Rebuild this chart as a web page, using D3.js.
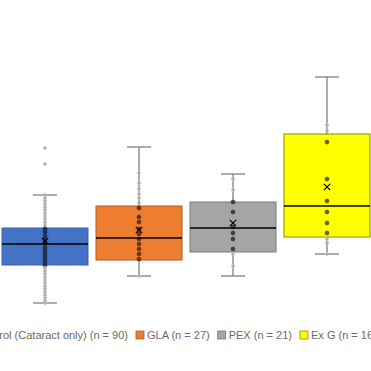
<!DOCTYPE html>
<html>
<head>
<meta charset="utf-8">
<script src="https://cdn.jsdelivr.net/npm/d3@7"></script>
<style>
  body { margin: 0; background: #fff; }
  svg { display: block; }
</style>
</head>
<body>
<script>
// groups and their legend labels
var groups = ["Control (Cataract only)", "GLA", "PEX", "Ex G"];
var counts = [90, 27, 21, 16];
var colors = ["#4472c4", "#ed7d31", "#a5a5a5", "#ffff00"];
var borders = ["#3a63ad", "#ae5a21", "#7b7b7b", "#8c8a00"];
var innerDots = ["#1f3050", "#6b3210", "#3f3f3f", "#6e5c00"];

// box stats: [min, q1, median, q3, max], and means
var stats = [
  [2.7, 6.5, 8.6, 10.2, 13.5],
  [5.4, 7.0, 9.2, 12.4, 18.3],
  [5.4, 7.8, 10.2, 12.8, 15.6],
  [7.6, 9.3, 12.4, 19.6, 25.3]
];
var means = [8.9, 10.0, 10.7, 14.3];

// individual points per group
var ctrlPts = [18.2, 16.6, 13.5, 13.2, 12.9, 12.6, 12.3, 12.0, 11.7, 11.4, 11.1, 10.8, 10.5,
  10.1, 9.8, 9.4, 9.0, 8.7, 8.3, 8.0, 7.7, 7.4, 7.1, 6.8, 6.5, 6.2, 5.9, 5.6, 5.3, 5.0,
  4.7, 4.4, 4.1, 3.8, 3.5, 3.2, 2.9, 2.7];
var glaPts = [15.7, 14.7, 14.1, 13.6, 13.2, 12.7, 12.2, 11.3, 10.8, 10.1, 9.6, 9.1, 8.6, 8.1, 7.6, 7.1, 5.4];
var pexPts = [15.1, 14.0, 12.8, 11.8, 10.3, 9.7, 9.1, 8.1, 7.6, 6.4];
var exgPts = [20.5, 19.9, 18.8, 15.1, 12.9, 11.8, 10.7, 9.7, 9.1, 8.7, 7.6];
var points = [ctrlPts, glaPts, pexPts, exgPts];

var width = 371, height = 371;
var svg = d3.select("body").append("svg")
  .attr("width", width)
  .attr("height", height);

var x = d3.scalePoint().domain(groups).range([-2, 374]).padding(0.5);
var y = d3.scaleLinear().domain([0, 33]).range([330, 0]);
var half = 43, cap = 12;

var g = svg.selectAll(".grp")
  .data(groups)
  .enter().append("g")
  .attr("class", "grp");

// whiskers
g.append("line")
  .attr("x1", function(d){ return x(d); })
  .attr("x2", function(d){ return x(d); })
  .attr("y1", function(d, i){ return y(stats[i][0]); })
  .attr("y2", function(d, i){ return y(stats[i][4]); })
  .attr("stroke", "#767676").attr("stroke-width", 1.2);
[0, 4].forEach(function(k){
  g.append("line")
    .attr("x1", function(d){ return x(d) - cap; })
    .attr("x2", function(d){ return x(d) + cap; })
    .attr("y1", function(d, i){ return y(stats[i][k]); })
    .attr("y2", function(d, i){ return y(stats[i][k]); })
    .attr("stroke", "#767676").attr("stroke-width", 1.2);
});

// boxes
g.append("rect")
  .attr("x", function(d){ return x(d) - half; })
  .attr("width", half * 2)
  .attr("y", function(d, i){ return y(stats[i][3]); })
  .attr("height", function(d, i){ return y(stats[i][1]) - y(stats[i][3]); })
  .attr("fill", function(d, i){ return colors[i]; })
  .attr("stroke", function(d, i){ return borders[i]; })
  .attr("stroke-width", 1);

// points
g.each(function(d, i){
  d3.select(this).selectAll("circle")
    .data(points[i])
    .enter().append("circle")
    .attr("cx", x(d))
    .attr("cy", function(v){ return y(v); })
    .attr("r", function(v){ return (v >= stats[i][1] && v <= stats[i][3]) ? 2 : 1.7; })
    .attr("fill", function(v){
      return (v >= stats[i][1] && v <= stats[i][3]) ? innerDots[i] : "#ababab";
    })
    .attr("stroke", function(v){
      return (v >= stats[i][1] && v <= stats[i][3]) ? d3.color(innerDots[i]).darker(0.5) : "#cfcfcf";
    })
    .attr("stroke-width", 0.6);
});

// medians
g.append("line")
  .attr("x1", function(d){ return x(d) - half; })
  .attr("x2", function(d){ return x(d) + half; })
  .attr("y1", function(d, i){ return y(stats[i][2]); })
  .attr("y2", function(d, i){ return y(stats[i][2]); })
  .attr("stroke", "#000").attr("stroke-width", 1.3);

// mean markers
g.append("path")
  .attr("d", function(d, i){
    var cx = x(d), cy = y(means[i]), s = 3.2;
    return "M" + (cx - s) + "," + (cy - s) + "L" + (cx + s) + "," + (cy + s) +
           "M" + (cx - s) + "," + (cy + s) + "L" + (cx + s) + "," + (cy - s);
  })
  .attr("stroke", "#000").attr("stroke-width", 1.2).attr("fill", "none");

// legend
var legend = svg.append("g").attr("class", "legend");
var items = legend.selectAll(".item")
  .data(groups)
  .enter().append("g").attr("class", "item");
items.append("rect")
  .attr("width", 8).attr("height", 8)
  .attr("y", 331)
  .attr("fill", function(d, i){ return colors[i]; })
  .attr("stroke", function(d, i){ return borders[i]; })
  .attr("stroke-width", 0.8);
items.append("text")
  .attr("y", 339)
  .attr("font-family", "Liberation Sans, Arial, sans-serif")
  .attr("font-size", "11px")
  .attr("fill", "#6a6a6a")
  .text(function(d, i){ return d + " (n = " + counts[i] + ")"; });

var pos = 0, starts = [];
items.each(function(){
  var it = d3.select(this);
  starts.push(pos);
  it.select("text").attr("x", 11);
  pos += 11 + it.select("text").node().getComputedTextLength() + 8;
});
var shift = 136 - starts[1];
items.attr("transform", function(d, i){ return "translate(" + (starts[i] + shift) + ",0)"; });
</script>
</body>
</html>
